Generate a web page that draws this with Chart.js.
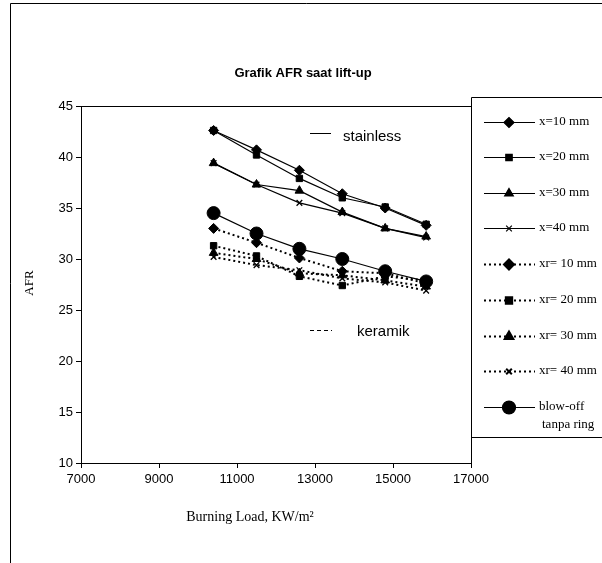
<!DOCTYPE html>
<html>
<head>
<meta charset="utf-8">
<script src="https://cdn.jsdelivr.net/npm/chart.js@4.4.1/dist/chart.umd.min.js"></script>
<style>
  body { margin: 0; background: #fff; }
  canvas { display: block; }
</style>
</head>
<body>
<canvas id="afr" width="602" height="563"></canvas>
<script>
// burning load, KW/m2
var loads = [10400, 11500, 12600, 13700, 14800, 15850];

// stainless rings (solid)
var x10 = [42.6, 40.7, 38.7, 36.4, 35.0, 33.3];
var x20 = [42.6, 40.2, 37.9, 36.0, 35.1, 33.4];
var x30 = [39.4, 37.3, 36.7, 34.6, 33.0, 32.2];
var x40 = [39.4, 37.3, 35.5, 34.5, 33.0, 32.1];

// keramik rings (dotted)
var xr10 = [33.0, 31.6, 30.1, 28.8, 28.6, 27.6];
var xr20 = [31.3, 30.3, 28.3, 27.4, 28.3, 27.9];
var xr30 = [30.6, 30.0, 28.6, 28.4, 27.9, 27.3];
var xr40 = [30.2, 29.4, 28.9, 28.1, 27.7, 26.9];

// without ring
var blowOff = [34.5, 32.5, 31.0, 30.0, 28.8, 27.8];

var xTicks = [7000, 9000, 11000, 13000, 15000, 17000];
var yTicks = [10, 15, 20, 25, 30, 35, 40, 45];

function pts(vals) {
  return vals.map(function(v, i) { return { x: loads[i], y: v }; });
}

function series(label, vals, style, dotted, radius) {
  return {
    label: label,
    data: pts(vals),
    showLine: true,
    borderColor: '#000',
    backgroundColor: '#000',
    borderWidth: dotted ? 2 : 1.2,
    borderDash: dotted ? [2, 3] : [],
    pointStyle: style,
    pointRadius: radius,
    pointBorderColor: '#000',
    pointBackgroundColor: '#000',
    pointBorderWidth: style === 'crossRot' ? 1.3 : 1
  };
}

var datasets = [
  series('x=10 mm', x10, 'rectRot', false, 5),
  series('x=20 mm', x20, 'rect', false, 4.5),
  series('x=30 mm', x30, 'triangle', false, 5),
  series('x=40 mm', x40, 'crossRot', false, 4),
  series('xr= 10 mm', xr10, 'rectRot', true, 5),
  series('xr= 20 mm', xr20, 'rect', true, 4.5),
  series('xr= 30 mm', xr30, 'triangle', true, 5),
  series('xr= 40 mm', xr40, 'crossRot', true, 4),
  series('blow-off\ntanpa ring', blowOff, 'circle', false, 6.5)
];

// frame, title, labels, legend box
var decorations = {
  id: 'decorations',
  afterDraw: function(chart) {
    var ctx = chart.ctx;
    var area = chart.chartArea;
    ctx.save();
    ctx.strokeStyle = '#000';
    ctx.lineWidth = 1;

    // outer border (cut at right and bottom)
    ctx.beginPath();
    ctx.moveTo(10.5, 563);
    ctx.lineTo(10.5, 3.5);
    ctx.lineTo(602, 3.5);
    ctx.stroke();

    // plot frame top and right
    ctx.beginPath();
    ctx.moveTo(area.left, area.top + 0.5);
    ctx.lineTo(area.right + 0.5, area.top + 0.5);
    ctx.lineTo(area.right + 0.5, area.bottom);
    ctx.stroke();

    ctx.fillStyle = '#000';
    ctx.textAlign = 'center';
    ctx.textBaseline = 'middle';
    ctx.font = 'bold 13px "Liberation Sans", Arial, sans-serif';
    ctx.fillText('Grafik AFR saat lift-up', 303, 73);

    ctx.font = '14px "Liberation Serif", "Times New Roman", serif';
    ctx.fillText('Burning Load, KW/m\u00B2', 250, 517);

    ctx.save();
    ctx.translate(30, 283);
    ctx.rotate(-Math.PI / 2);
    ctx.font = '13px "Liberation Serif", "Times New Roman", serif';
    ctx.fillText('AFR', 0, 0);
    ctx.restore();

    // group labels inside the plot
    ctx.textAlign = 'left';
    ctx.font = '15px "Liberation Sans", Arial, sans-serif';
    ctx.beginPath();
    ctx.moveTo(310, 133.5);
    ctx.lineTo(331, 133.5);
    ctx.stroke();
    ctx.fillText('stainless', 343, 137);
    ctx.setLineDash([4, 3]);
    ctx.beginPath();
    ctx.moveTo(310, 330.5);
    ctx.lineTo(332, 330.5);
    ctx.stroke();
    ctx.setLineDash([]);
    ctx.fillText('keramik', 357, 332);

    // legend box
    ctx.beginPath();
    ctx.moveTo(602, 97.5);
    ctx.lineTo(471.5, 97.5);
    ctx.lineTo(471.5, 437.5);
    ctx.lineTo(602, 437.5);
    ctx.stroke();

    var rowY = [122, 157, 193, 228, 264, 300, 336, 371, 407];
    ctx.font = '13px "Liberation Serif", "Times New Roman", serif';
    chart.data.datasets.forEach(function(ds, i) {
      var y = rowY[i];
      ctx.strokeStyle = '#000';
      ctx.lineWidth = ds.borderWidth;
      ctx.setLineDash(ds.borderDash);
      ctx.beginPath();
      ctx.moveTo(484, y + 0.5);
      ctx.lineTo(535, y + 0.5);
      ctx.stroke();
      ctx.setLineDash([]);
      Chart.helpers.drawPoint(ctx, {
        pointStyle: ds.pointStyle,
        radius: ds.pointRadius,
        rotation: 0,
        borderWidth: ds.pointBorderWidth
      }, 509, y + 0.5);
      ctx.fillStyle = '#000';
      ctx.strokeStyle = '#000';
      ctx.lineWidth = ds.pointBorderWidth;
      ctx.fill();
      var lines = ds.label.split('\n');
      lines.forEach(function(t, k) {
        ctx.fillText(t, 539 + (k > 0 ? 3 : 0), y + k * 18);
      });
    });
    ctx.restore();
  }
};

new Chart(document.getElementById('afr').getContext('2d'), {
  type: 'scatter',
  data: { datasets: datasets },
  options: {
    responsive: false,
    devicePixelRatio: 1,
    animation: false,
    layout: { padding: { top: 106, right: 131, left: 0, bottom: 0 } },
    plugins: {
      legend: { display: false },
      tooltip: { enabled: false },
      title: { display: false }
    },
    scales: {
      x: {
        type: 'linear',
        min: 7000,
        max: 17000,
        afterFit: function(scale) { scale.height = 100; },
        afterBuildTicks: function(scale) {
          scale.ticks = xTicks.map(function(v) { return { value: v }; });
        },
        grid: { drawOnChartArea: false, color: '#000', tickLength: 5 },
        border: { color: '#000', width: 1 },
        ticks: {
          color: '#000',
          padding: 4,
          maxRotation: 0,
          font: { family: '"Liberation Sans", Arial, sans-serif', size: 13 },
          callback: function(v) { return String(v); }
        }
      },
      y: {
        min: 10,
        max: 45,
        afterFit: function(scale) { scale.width = 81; },
        afterBuildTicks: function(scale) {
          scale.ticks = yTicks.map(function(v) { return { value: v }; });
        },
        grid: { drawOnChartArea: false, color: '#000', tickLength: 5 },
        border: { color: '#000', width: 1 },
        ticks: {
          color: '#000',
          padding: 3,
          font: { family: '"Liberation Sans", Arial, sans-serif', size: 13 }
        }
      }
    }
  },
  plugins: [decorations]
});
</script>
</body>
</html>
